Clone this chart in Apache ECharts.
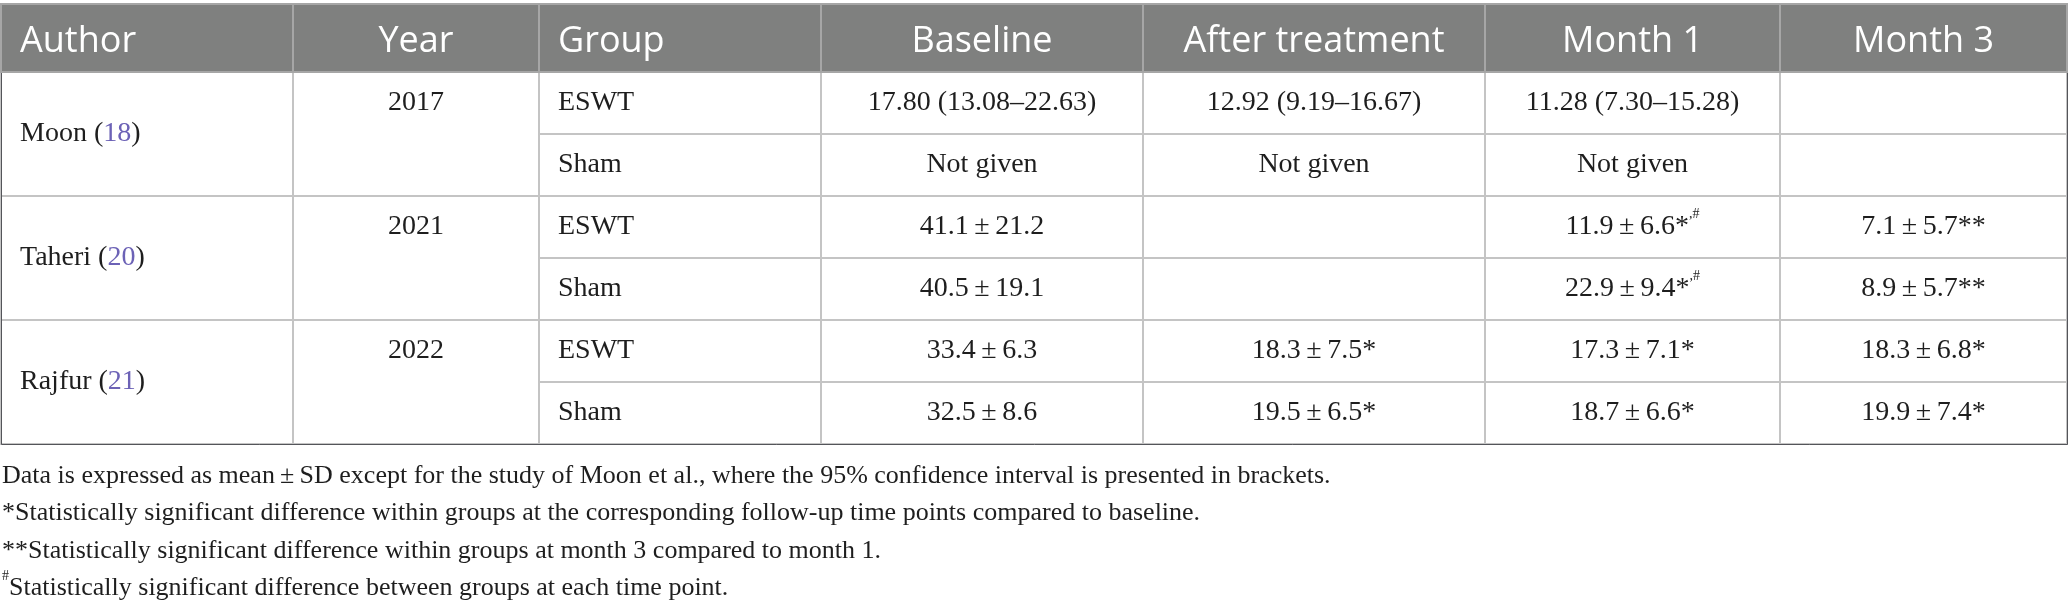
<!DOCTYPE html>
<html>
<head>
<meta charset="utf-8">
<title>ESWT table</title>
<script src="https://cdn.jsdelivr.net/npm/echarts@6.0.0/dist/echarts.min.js"></script>
<style>
  html, body { margin: 0; padding: 0; background: #fff; }
  #chart { width: 2068px; height: 609px; }
</style>
</head>
<body>
<div id="chart"></div>
<script>
// table content
const columns = ['Author', 'Year', 'Group', 'Baseline', 'After treatment', 'Month 1', 'Month 3'];
const authors = ['Moon', 'Taheri', 'Rajfur'];
const refs = ['18', '20', '21'];
const years = ['2017', '2021', '2022'];
const groups = ['ESWT', 'Sham'];
const baseline = ['17.80 (13.08–22.63)', 'Not given', '41.1 ± 21.2', '40.5 ± 19.1', '33.4 ± 6.3', '32.5 ± 8.6'];
const afterTreatment = ['12.92 (9.19–16.67)', 'Not given', '', '', '18.3 ± 7.5*', '19.5 ± 6.5*'];
const month1 = ['11.28 (7.30–15.28)', 'Not given', '11.9 ± 6.6*,#', '22.9 ± 9.4*,#', '17.3 ± 7.1*', '18.7 ± 6.6*'];
const month3 = ['', '', '7.1 ± 5.7**', '8.9 ± 5.7**', '18.3 ± 6.8*', '19.9 ± 7.4*'];
const footnotes = [
  'Data is expressed as mean ± SD except for the study of Moon et al., where the 95% confidence interval is presented in brackets.',
  '*Statistically significant difference within groups at the corresponding follow-up time points compared to baseline.',
  '**Statistically significant difference within groups at month 3 compared to month 1.',
  '#Statistically significant difference between groups at each time point.'
];

// layout
const colWidths = [292, 246, 282, 322, 342, 295, 289];
const headerHeight = 68;
const rowHeight = 62;
const lineH = 40;
const serif = 'Liberation Serif';
const sans = 'Open Sans';
const textColor = '#1e1e1e';
const bodySize = 28;
const noteSize = 26;

const chart = echarts.init(document.getElementById('chart'));

// thin spaces around ±, superscript ",#" / leading "#"
function fmt(s) {
  if (!s) return '';
  s = s.replace(/ ± /g, '\u2009±\u2009');
  const i = s.indexOf(',#');
  if (i >= 0) return s.slice(0, i) + '{sup|,#}' + s.slice(i + 2);
  if (s[0] === '#') return '{fsup|#}' + s.slice(1);
  return s;
}

const nRows = authors.length * groups.length;
const rowKeys = ['head'];
for (let i = 0; i < nRows; i++) rowKeys.push('r' + i);

const xData = columns.map((c, i) => ({ value: c, size: colWidths[i] }));
const yData = rowKeys.map((k, i) => ({ value: k, size: i === 0 ? headerHeight : rowHeight }));

// matrix labels sit at the top of the cell box, so push them down with padding
const rowPad = [(rowHeight - lineH) / 2, 0, 0, 0];
const leftLabel = { position: 'insideLeft', distance: 19, align: 'left' };
const cells = [];

// header row
columns.forEach((c) => {
  const left = c === 'Author' || c === 'Group';
  cells.push({
    coord: [c, 'head'],
    value: c,
    itemStyle: { color: '#7f807f', borderColor: '#a6a6a6', borderWidth: 2 },
    label: Object.assign({
      color: '#fff', fontFamily: sans, fontSize: 36, lineHeight: 44, padding: [16, 0, 0, 0]
    }, left ? leftLabel : {})
  });
});

const valueCols = [
  ['Baseline', baseline],
  ['After treatment', afterTreatment],
  ['Month 1', month1],
  ['Month 3', month3]
];

authors.forEach((a, ai) => {
  const r0 = 'r' + (ai * 2);
  const r1 = 'r' + (ai * 2 + 1);
  cells.push({
    coord: ['Author', [r0, r1]], mergeCells: true,
    value: a + ' ({ref|' + refs[ai] + '})',
    label: Object.assign({ padding: [rowHeight - lineH / 2, 0, 0, 0] }, leftLabel)
  });
  cells.push({
    coord: ['Year', [r0, r1]], mergeCells: true,
    value: years[ai]
  });
  groups.forEach((g, gi) => {
    const r = ai * 2 + gi;
    cells.push({ coord: ['Group', 'r' + r], value: g, label: leftLabel });
    valueCols.forEach(([col, arr]) => {
      cells.push({ coord: [col, 'r' + r], value: fmt(arr[r]) });
    });
  });
});

const footText = footnotes.map(fmt).join('\n');

chart.setOption({
  backgroundColor: '#fff',
  title: {
    text: footText,
    left: 2,
    top: 457,
    padding: 0,
    textStyle: {
      fontFamily: serif, fontSize: noteSize, fontWeight: 'normal', color: textColor, lineHeight: 37.5,
      rich: {
        fsup: { fontFamily: serif, fontSize: 14, color: textColor, verticalAlign: 'top', lineHeight: 26 }
      }
    }
  },
  matrix: {
    left: 1,
    right: 1,
    top: 4,
    height: headerHeight + rowHeight * nRows,
    x: { show: false, data: xData },
    y: { show: false, data: yData },
    corner: { show: false },
    body: {
      itemStyle: { color: '#fff', borderColor: '#c4c4c4', borderWidth: 2 },
      label: {
        show: true,
        overflow: 'none',
        padding: rowPad,
        fontFamily: serif, fontSize: bodySize, color: textColor, lineHeight: lineH,
        rich: {
          sup: { fontFamily: serif, fontSize: 14, color: textColor, verticalAlign: 'top', lineHeight: 22 },
          ref: { fontFamily: serif, fontSize: bodySize, color: '#6c62b6', lineHeight: lineH }
        }
      },
      data: cells
    }
  }
});
</script>
</body>
</html>
